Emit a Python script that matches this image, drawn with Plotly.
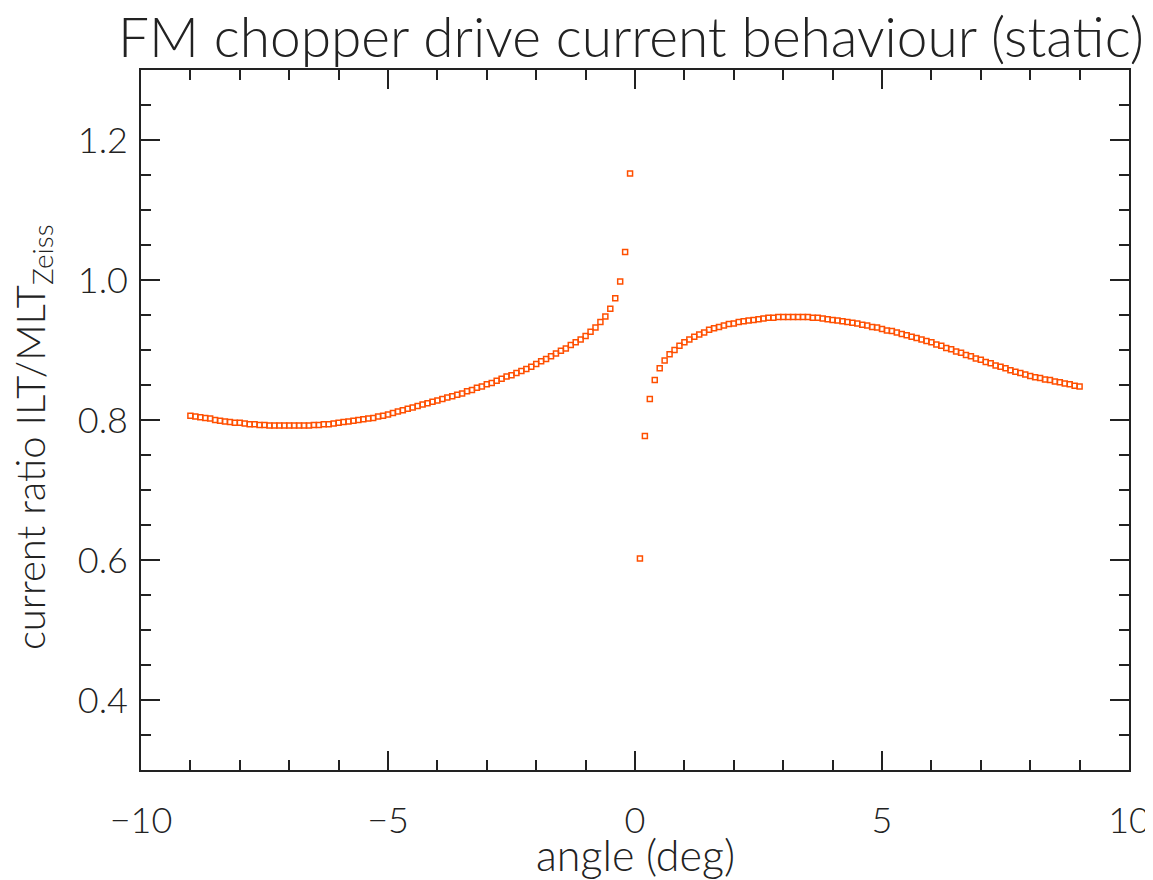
import plotly.graph_objects as go

angle_neg = [-9.0, -8.9, -8.8, -8.7, -8.6, -8.5, -8.4, -8.3, -8.2, -8.1,
             -8.0, -7.9, -7.8, -7.7, -7.6, -7.5, -7.4, -7.3, -7.2, -7.1,
             -7.0, -6.9, -6.8, -6.7, -6.6, -6.5, -6.4, -6.3, -6.2, -6.1,
             -6.0, -5.9, -5.8, -5.7, -5.6, -5.5, -5.4, -5.3, -5.2, -5.1,
             -5.0, -4.9, -4.8, -4.7, -4.6, -4.5, -4.4, -4.3, -4.2, -4.1,
             -4.0, -3.9, -3.8, -3.7, -3.6, -3.5, -3.4, -3.3, -3.2, -3.1,
             -3.0, -2.9, -2.8, -2.7, -2.6, -2.5, -2.4, -2.3, -2.2, -2.1,
             -2.0, -1.9, -1.8, -1.7, -1.6, -1.5, -1.4, -1.3, -1.2, -1.1,
             -1.0, -0.9, -0.8, -0.7, -0.6, -0.5, -0.4, -0.3, -0.2, -0.1]
ratio_neg = [0.806, 0.805, 0.804, 0.803, 0.802, 0.800, 0.799, 0.798, 0.797, 0.796,
             0.796, 0.795, 0.794, 0.794, 0.793, 0.793, 0.792, 0.792, 0.792, 0.792,
             0.792, 0.792, 0.792, 0.792, 0.792, 0.793, 0.793, 0.794, 0.794, 0.795,
             0.796, 0.797, 0.798, 0.799, 0.800, 0.801, 0.802, 0.803, 0.805, 0.806,
             0.808, 0.810, 0.812, 0.814, 0.816, 0.818, 0.820, 0.822, 0.824, 0.826,
             0.828, 0.830, 0.832, 0.834, 0.836, 0.838, 0.841, 0.843, 0.846, 0.848,
             0.851, 0.853, 0.856, 0.859, 0.862, 0.864, 0.867, 0.870, 0.873, 0.876,
             0.880, 0.884, 0.887, 0.891, 0.895, 0.899, 0.902, 0.907, 0.911, 0.915,
             0.920, 0.926, 0.932, 0.940, 0.948, 0.959, 0.974, 0.998, 1.040, 1.152]

angle_pos = [0.1, 0.2, 0.3, 0.4, 0.5, 0.6, 0.7, 0.8, 0.9, 1.0,
             1.1, 1.2, 1.3, 1.4, 1.5, 1.6, 1.7, 1.8, 1.9, 2.0,
             2.1, 2.2, 2.3, 2.4, 2.5, 2.6, 2.7, 2.8, 2.9, 3.0,
             3.1, 3.2, 3.3, 3.4, 3.5, 3.6, 3.7, 3.8, 3.9, 4.0,
             4.1, 4.2, 4.3, 4.4, 4.5, 4.6, 4.7, 4.8, 4.9, 5.0,
             5.1, 5.2, 5.3, 5.4, 5.5, 5.6, 5.7, 5.8, 5.9, 6.0,
             6.1, 6.2, 6.3, 6.4, 6.5, 6.6, 6.7, 6.8, 6.9, 7.0,
             7.1, 7.2, 7.3, 7.4, 7.5, 7.6, 7.7, 7.8, 7.9, 8.0,
             8.1, 8.2, 8.3, 8.4, 8.5, 8.6, 8.7, 8.8, 8.9, 9.0]
ratio_pos = [0.602, 0.777, 0.830, 0.857, 0.874, 0.885, 0.894, 0.900, 0.906, 0.911,
             0.915, 0.919, 0.922, 0.925, 0.929, 0.931, 0.933, 0.935, 0.937, 0.938,
             0.940, 0.941, 0.942, 0.943, 0.944, 0.945, 0.946, 0.946, 0.947, 0.947,
             0.947, 0.947, 0.947, 0.947, 0.947, 0.946, 0.946, 0.945, 0.944, 0.943,
             0.942, 0.941, 0.940, 0.939, 0.938, 0.936, 0.935, 0.933, 0.932, 0.930,
             0.928, 0.927, 0.925, 0.923, 0.921, 0.919, 0.917, 0.915, 0.913, 0.911,
             0.908, 0.906, 0.903, 0.901, 0.898, 0.896, 0.893, 0.891, 0.888, 0.886,
             0.883, 0.881, 0.878, 0.876, 0.874, 0.871, 0.869, 0.867, 0.865, 0.863,
             0.861, 0.860, 0.858, 0.857, 0.855, 0.854, 0.852, 0.851, 0.849, 0.848]

x_ticks = [-10, -5, 0, 5, 10]
x_tick_labels = ["\u221210", "\u22125", "0", "5", "10"]
y_ticks = [0.4, 0.6, 0.8, 1.0, 1.2]
y_tick_labels = ["0.4", "0.6", "0.8", "1.0", "1.2"]

angles = angle_neg + angle_pos
ratios = ratio_neg + ratio_pos

FONT = "Lato"
AX = "#222222"
TXT = "#222222"
MARK = "#ff4f00"

fig = go.Figure()
fig.add_trace(go.Scatter(
    x=angles, y=ratios, mode="markers",
    marker=dict(symbol="square-open", size=5, color=MARK, line=dict(width=1.5, color=MARK)),
    showlegend=False, hoverinfo="x+y",
))

axis_common = dict(
    showline=True, linecolor=AX, linewidth=1.6, mirror="allticks",
    ticks="inside", tickcolor=AX, tickwidth=1.6, ticklen=19,
    showgrid=False, zeroline=False, automargin=False, ticklabeloverflow="allow",
    tickfont=dict(family=FONT, size=36, color=TXT, weight=300),
)

fig.update_layout(
    width=1145, height=872,
    paper_bgcolor="white", plot_bgcolor="white",
    margin=dict(l=133, r=24, t=62, b=110),
    title=dict(text="FM chopper drive current behaviour (static)",
               font=dict(family=FONT, size=55, color=TXT, weight=300),
               x=0.544, xanchor="center", y=0.966, yanchor="middle", automargin=False),
    xaxis=dict(range=[-10, 10], tickmode="array", tickvals=x_ticks, ticktext=x_tick_labels,
               ticklabelstandoff=18,
               minor=dict(dtick=1, ticks="inside", ticklen=10, tickcolor=AX, tickwidth=1.6),
               **axis_common),
    yaxis=dict(range=[0.3, 1.3], tickmode="array", tickvals=y_ticks, ticktext=y_tick_labels,
               ticklabelstandoff=4,
               minor=dict(dtick=0.05, tick0=0.3, ticks="inside", ticklen=10, tickcolor=AX, tickwidth=1.6),
               **axis_common),
    annotations=[
        dict(text="angle (deg)", xref="paper", yref="paper", x=0.5, y=-0.1214,
             xanchor="center", yanchor="middle", showarrow=False,
             font=dict(family=FONT, size=43, color=TXT, weight=300)),
        dict(text="current ratio ILT/MLT<sub>Zeiss</sub>", xref="paper", yref="paper",
             x=-0.1103, y=0.4757, xanchor="center", yanchor="middle", textangle=-90,
             showarrow=False, font=dict(family=FONT, size=40, color=TXT, weight=300)),
    ],
)

fig.write_html("out.html")
